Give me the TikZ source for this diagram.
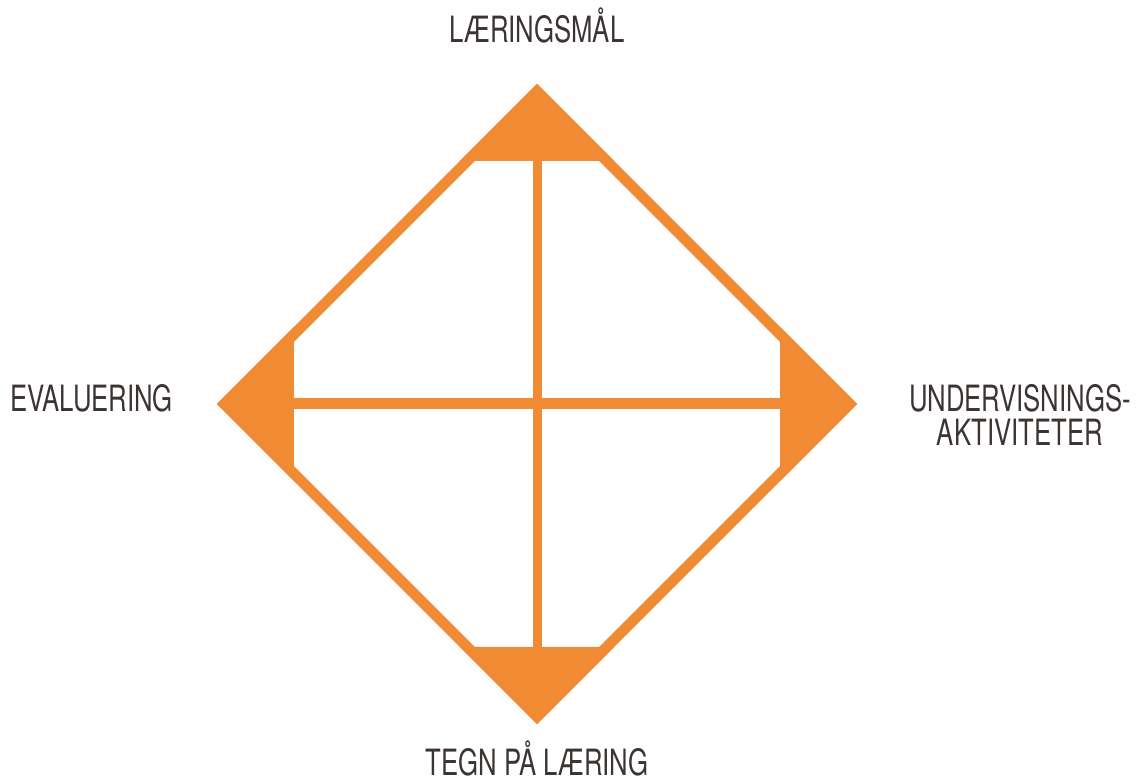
\documentclass[tikz,border=0pt]{standalone}
\usepackage{fontspec}
\newfontfamily\labelfont[FakeStretch=0.71]{TeX Gyre Heros}
\definecolor{modelorange}{RGB}{240,139,52}
\definecolor{labelgray}{RGB}{60,52,50}
\begin{document}
\begin{tikzpicture}[scale=1,
    edge/.style={draw=modelorange, line width=0.105cm, line join=miter},
    corner/.style={fill=modelorange},
    label/.style={text=labelgray, inner sep=0pt, font=\labelfont\fontsize{10.3}{9.4}\selectfont}]
    \useasboundingbox (-5.37,-3.79) rectangle (6.07,4.04);
    \coordinate (top) at (0,3.2);
    \coordinate (right) at (3.2,0);
    \coordinate (bottom) at (0,-3.2);
    \coordinate (left) at (-3.2,0);
    \fill[corner] (top) -- ++(-0.77,-0.77) -- ++(1.54,0) -- cycle;
    \fill[corner] (right) -- ++(-0.77,0.77) -- ++(0,-1.54) -- cycle;
    \fill[corner] (bottom) -- ++(-0.77,0.77) -- ++(1.54,0) -- cycle;
    \fill[corner] (left) -- ++(0.77,0.77) -- ++(0,-1.54) -- cycle;
    \draw[edge] (0,3.126) -- (3.126,0) -- (0,-3.126) -- (-3.126,0) -- cycle;
    \draw[edge, line width=0.09cm] (0,2.6) -- (0,-2.6);
    \draw[edge, line width=0.11cm] (-2.6,0) -- (2.6,0);
    \node[label, anchor=base] (goal) at (0,3.61) {LÆRINGSMÅL};
    \node[label, anchor=base] (eval) at (-4.455,-0.08) {EVALUERING};
    \node[label, align=center] (activity) at (4.83,-0.11) {UNDERVISNINGS-\\AKTIVITETER};
    \node[label, anchor=base] (signs) at (0,-3.71) {TEGN PÅ LÆRING};
  \end{tikzpicture}
\end{document}
